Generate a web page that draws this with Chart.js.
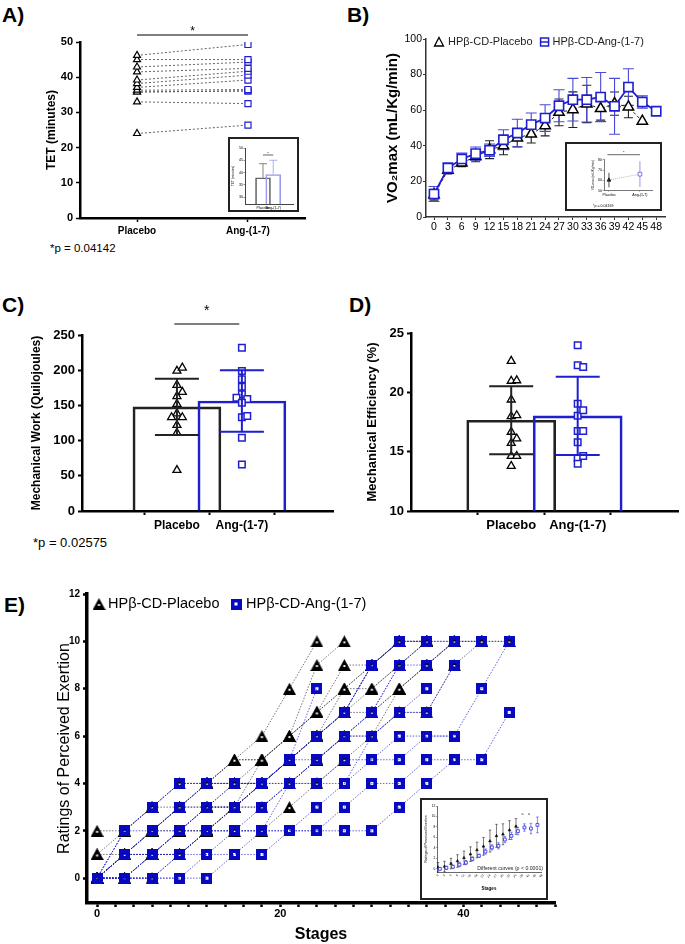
<!DOCTYPE html>
<html><head><meta charset="utf-8">
<script src="https://cdn.jsdelivr.net/npm/chart.js@4.4.0/dist/chart.umd.min.js"></script>
<style>
html,body{margin:0;padding:0;background:#fff;}
body{width:685px;height:944px;position:relative;overflow:hidden;font-family:"Liberation Sans",Arial,"DejaVu Sans",sans-serif;color:#000;}
canvas{position:absolute;}
.lbl{position:absolute;font-weight:bold;font-size:21px;line-height:1;}
.txt{position:absolute;font-size:11.5px;line-height:1;white-space:nowrap;}
.inset{position:absolute;border:2px solid #222;background:#fff;}
.inset canvas{left:0;top:0;}
</style></head><body>
<div class="lbl" style="left:2px;top:4px">A)</div>
<div class="lbl" style="left:347px;top:4px">B)</div>
<div class="lbl" style="left:2px;top:294px">C)</div>
<div class="lbl" style="left:349px;top:294px">D)</div>
<div class="lbl" style="left:4px;top:594px">E)</div>
<div class="txt" style="left:50px;top:243px">*p = 0.04142</div>
<div class="txt" style="left:33px;top:536px;font-size:13px">*p = 0.02575</div>

<canvas id="cA" width="340" height="250" style="left:0;top:0"></canvas>
<canvas id="cB" width="345" height="250" style="left:340px;top:0"></canvas>
<canvas id="cC" width="340" height="250" style="left:0;top:290px"></canvas>
<canvas id="cD" width="345" height="250" style="left:340px;top:290px"></canvas>
<canvas id="cE" width="685" height="364" style="left:0;top:580px"></canvas>
<div class="inset" style="left:228px;top:137px;width:67px;height:71px"><canvas id="iA" width="67" height="71"></canvas></div>
<div class="inset" style="left:565px;top:142px;width:93px;height:65px"><canvas id="iB" width="93" height="65"></canvas></div>
<div class="inset" style="left:420px;top:798px;width:124px;height:98px"><canvas id="iE" width="124" height="98"></canvas></div>

<script>
// ---------------- DATA ----------------
const groupCats = ['Placebo', 'Ang-(1-7)'];
const seriesNames = ['HPβ-CD-Placebo', 'HPβ-CD-Ang-(1-7)'];

// A) Total exercise time (minutes), paired per subject
const tetPlacebo = [46.2, 45, 42.9, 41.5, 39.2, 38.2, 37.1, 36.3, 35.8, 35.8, 33, 24];
const tetAng     = [49.3, 45, 44.3, 42.5, 41.7, 40.6, 39.2, 36.5, 36.1, 36.1, 32.5, 26.4];
const tetMean = [37.9, 39.2];
const tetSD   = [5.7, 5.8];
const tetTicks = [0, 10, 20, 30, 40, 50];
const tetInsetTicks = [30, 35, 40, 45, 50];

// B) VO2max per stage
const stagesB = [0, 3, 6, 9, 12, 15, 18, 21, 24, 27, 30, 33, 36, 39, 42, 45, 48];
const vo2Placebo   = [12.5, 26.2, 30.3, 34, 37.8, 40, 44.4, 46.6, 51.3, 58.8, 60.3, 63.5, 60.9, 63.7, 61.8, 53.8];
const vo2PlaceboSD = [3, 2, 2, 3, 5, 5, 5, 5, 5.7, 7.5, 10, 10.5, 6.5, 6.5, 6, 0];
const vo2Ang       = [12.9, 27.5, 32.6, 35.6, 37.5, 43.4, 47.2, 51.9, 55.6, 62.5, 65.9, 65.9, 67.4, 62.2, 73, 64.6, 59.4];
const vo2AngSD     = [4.2, 3, 3.3, 3.7, 3.5, 5.6, 7.7, 6.5, 7.5, 9, 12, 12.5, 13.8, 15.7, 10.3, 3.5, 0];
const vo2Ticks = [0, 20, 40, 60, 80, 100];
const vo2InsetMean = [60.3, 66];
const vo2InsetSD = [7, 12.5];
const vo2InsetTicks = [50, 60, 70, 80];

// C) Mechanical work (kJ)
const workPlacebo = [199, 203.5, 179, 169, 163, 152, 138.5, 133, 133, 122, 111, 58];
const workPlaceboSide = [0, 1, 0, 1, 0, 0, 0, -1, 1, 0, 0, 0];
const workAng = [232, 199, 187, 176.5, 166, 161, 159, 153.7, 133, 135, 104, 66];
const workAngSide = [0, 0, 0, 0, 0, -1, 1, 0, 0, 1, 0, 0];
const workMean = [148, 156.3];
const workSD = [40, 43.7];
const workTicks = [0, 50, 100, 150, 200, 250];

// D) Mechanical efficiency (%)
const effPlacebo = [22.64, 20.96, 21.0, 19.38, 17.98, 18.06, 16.66, 16.1, 15.73, 14.63, 14.63, 13.79];
const effPlaceboSide = [0, 0, 1, 0, 0, 1, 0, 1, 0, 0, 1, 0];
const effAng = [23.96, 22.28, 22.13, 19.04, 18.03, 18.48, 16.74, 16.74, 15.79, 14.47, 14.63, 13.99];
const effAngSide = [0, 0, 1, 0, 0, 1, 0, 1, 0, 0, 1, 0];
const effMean = [17.65, 18.02];
const effSD = [2.87, 3.3];
const effTicks = [10, 15, 20, 25];

// E) Ratings of perceived exertion per stage, per subject
const stagesE = [0, 3, 6, 9, 12, 15, 18, 21, 24, 27, 30, 33, 36, 39, 42, 45, 48];
const rpePlacebo = [
  [2, 2, 3, 4, 4, 5, 6, 8, 10],
  [1, 2, 3, 3, 4, 5, 5, 6, 9, 10],
  [0, 1, 2, 3, 3, 4, 5, 6, 7, 8, 9, 10],
  [0, 1, 1, 2, 3, 3, 5, 6, 7, 9, 9, 10, 10],
  [0, 0, 1, 1, 2, 2, 2, 3, 4, 5, 6, 8, 9, 10],
  [0, 1, 2, 3, 4, 4, 4, 5, 6, 8, 8, 9, 10],
  [0, 0, 1, 1, 2, 3, 3, 4, 5, 6, 7, 8, 9, 10, 10],
  [0, 1, 1, 2, 2, 3, 4, 4, 5, 6, 6, 7, 7, 9, 10, 10],
  [1, 1, 2, 2, 3, 3, 4, 5, 6, 7, 7, 8, 9, 10, 10, 10],
  [0, 0, 0, 1, 2, 3, 4, 5, 6, 7, 9, 10, 10],
  [0, 1, 2, 3, 4, 5, 5, 6, 7, 8, 9, 10],
  [0, 0, 1, 2, 2, 3, 4, 5, 6, 7, 8, 9, 10]
];
const rpeAng = [
  [0, 0, 0, 0, 0, 1, 1, 2, 2, 3, 4, 4, 5, 5, 5, 7],
  [0, 1, 1, 2, 2, 2, 2, 4, 4, 5, 5, 6, 6, 6, 8, 10],
  [0, 0, 0, 0, 1, 2, 3, 4, 5, 6, 7, 9, 10, 10, 10],
  [0, 1, 2, 2, 3, 3, 4, 5, 6, 7, 9, 10, 10],
  [0, 2, 3, 4, 4, 4, 4, 5, 8],
  [0, 0, 1, 1, 1, 1, 2, 2, 3, 4, 6, 7, 7, 9],
  [0, 1, 1, 1, 2, 3, 3, 4, 5, 6, 7, 9, 9, 10],
  [0, 0, 1, 2, 3, 4, 4, 5, 6, 7, 9, 10],
  [0, 2, 2, 3, 4, 4, 4, 5, 5, 6, 6, 7, 8],
  [0, 1, 2, 3, 3, 3, 4, 4, 4, 4, 5, 5, 6, 6],
  [0, 0, 0, 1, 2, 2, 2, 2, 2, 2, 2, 3, 4, 5],
  [0, 2, 3, 4, 4, 4, 4, 5, 6, 7, 9, 10, 10, 10]
];
const rpeXTicks = [0,2,4,6,8,10,12,14,16,18,20,22,24,26,28,30,32,34,36,38,40,42,44,46,48,50];
const rpeXLabels = [0, 20, 40];
const rpeYTicks = [0, 2, 4, 6, 8, 10, 12];
// E inset: mean ± SD per stage
const rpePlaceboMean = [0.3, 0.45, 1.0, 1.5, 2.1, 2.8, 3.6, 4.3, 5.3, 6.3, 6.6, 7.4, 8.1];
const rpePlaceboSD   = [0.9, 1.0, 1.0, 1.2, 1.3, 1.4, 1.5, 1.7, 2.1, 2.2, 2.0, 1.8, 1.5];
const rpeAngMean = [0, 0.2, 0.4, 0.8, 1.2, 1.9, 2.5, 3.3, 4.1, 4.4, 5.6, 6.3, 7.2, 7.9, 7.7, 8.4];
const rpeAngSD   = [0.2, 0.3, 0.3, 0.4, 0.4, 0.4, 0.3, 0.5, 0.5, 0.6, 0.6, 0.7, 0.7, 0.7, 1.0, 1.5];
const rpeInsetYTicks = [0, 2, 4, 6, 8, 10, 12];
const rpeLetterIdx = [13, 14];

// ---------------- SETUP ----------------
const FAM = '"Liberation Sans", Arial, "DejaVu Sans", sans-serif';
Chart.defaults.font.family = FAM;
Chart.defaults.color = '#000';
Chart.defaults.animation = false;
Chart.defaults.responsive = false;
Chart.defaults.devicePixelRatio = 1;
Chart.defaults.events = [];
Chart.defaults.plugins.legend.display = false;
Chart.defaults.plugins.tooltip.enabled = false;

const BLUE = '#1f1fd0';
const JIT = 0.083;

function axis(o) {
  return {
    type: 'linear', min: o.min, max: o.max,
    afterFit: o.fit,
    afterBuildTicks: s => { s.ticks = o.ticks.map(v => ({ value: v })); },
    ticks: { callback: o.cb || (v => v), font: o.font, color: '#000', padding: o.pad ?? 3,
             maxRotation: o.rot ?? 0, minRotation: o.rot ?? 0, autoSkip: false },
    grid: { display: true, drawOnChartArea: false, drawTicks: true, tickLength: o.tl ?? 4,
            tickWidth: o.tw ?? 1.5, tickColor: o.col || '#000' },
    border: { display: true, color: o.col || '#000', width: o.bw ?? 2 },
    title: o.title ? { display: true, text: o.title, font: o.tfont, color: '#000', padding: o.tpad }
                   : { display: false }
  };
}

function drawErr(chart, when) {
  const ctx = chart.ctx, ys = chart.scales.y;
  chart.data.datasets.forEach((ds, i) => {
    if (!ds.err || (ds.errWhen || 'after') !== when) return;
    const meta = chart.getDatasetMeta(i);
    meta.data.forEach((el, j) => {
      const e = ds.err[j]; if (!e) return;
      const v = ds.data[j].y;
      const x = el.x;
      const yt = ys.getPixelForValue(v + e);
      const yb = ds.errUp ? ys.getPixelForValue(v) : ys.getPixelForValue(v - e);
      ctx.save();
      ctx.strokeStyle = Array.isArray(ds.errColor) ? ds.errColor[j] : ds.errColor;
      ctx.lineWidth = ds.errWidth;
      ctx.beginPath();
      ctx.moveTo(x, yt); ctx.lineTo(x, yb);
      ctx.moveTo(x - ds.capW / 2, yt); ctx.lineTo(x + ds.capW / 2, yt);
      if (!ds.errUp) { ctx.moveTo(x - ds.capW / 2, yb); ctx.lineTo(x + ds.capW / 2, yb); }
      ctx.stroke();
      ctx.restore();
    });
  });
}
const errPlugin = {
  id: 'errbars',
  beforeDatasetsDraw(c) { drawErr(c, 'before'); },
  afterDatasetsDraw(c) { drawErr(c, 'after'); }
};

function sigBar(c, a, b, y, fs, gap, lw) {
  const ctx = c.ctx, xs = c.scales.x;
  const x0 = xs.getPixelForValue(a), x1 = xs.getPixelForValue(b);
  ctx.save();
  ctx.strokeStyle = '#000'; ctx.lineWidth = lw || 1.2;
  ctx.beginPath(); ctx.moveTo(x0, y); ctx.lineTo(x1, y); ctx.stroke();
  ctx.fillStyle = '#000'; ctx.font = fs + 'px ' + FAM;
  ctx.textAlign = 'center'; ctx.textBaseline = 'alphabetic';
  ctx.fillText('*', (x0 + x1) / 2, y - gap);
  ctx.restore();
}

// marker images for panel E
function triImg(w, h) {
  const c = document.createElement('canvas'); c.width = w; c.height = h;
  const g = c.getContext('2d');
  g.fillStyle = '#000'; g.beginPath(); g.moveTo(w / 2, 0); g.lineTo(w, h); g.lineTo(0, h); g.closePath(); g.fill();
  g.fillStyle = '#fff'; g.fillRect(w / 2 - 1, Math.round(h * 0.6) - 1, 2, 2);
  return c;
}
function sqImg(s, hole) {
  const c = document.createElement('canvas'); c.width = s; c.height = s;
  const g = c.getContext('2d');
  g.fillStyle = '#0808c0'; g.fillRect(0, 0, s, s);
  g.clearRect((s - hole) / 2, (s - hole) / 2, hole, hole);
  return c;
}
const triE = triImg(13, 12);
const sqE = sqImg(11, 3);

// ---------------- A ----------------
new Chart(document.getElementById('cA'), {
  type: 'scatter',
  data: { datasets: tetPlacebo.map((p, i) => ({
    data: [{ x: 0, y: p }, { x: 1, y: tetAng[i] }],
    showLine: true, borderColor: '#555', borderWidth: 0.9, borderDash: [2, 2],
    pointStyle: ['triangle', 'rect'], pointRadius: [4, 4.3],
    pointBorderColor: ['#000', BLUE], pointBackgroundColor: '#fff', pointBorderWidth: 1.2
  })) },
  options: {
    layout: { padding: { top: 42, right: 35, left: 0, bottom: 0 } },
    scales: {
      x: axis({ min: -0.514, max: 1.514, ticks: [0, 1], cb: v => groupCats[v],
                font: { size: 10, weight: 'bold' }, fit: s => { s.height = 32; }, bw: 2.5 }),
      y: axis({ min: 0, max: 50, ticks: tetTicks, font: { size: 11, weight: 'bold' },
                fit: s => { s.width = 80; }, bw: 2.5, title: 'TET (minutes)',
                tfont: { size: 12, weight: 'bold' }, tpad: { top: 44.8, bottom: 0 } })
    }
  },
  plugins: [{ id: 'sigA', afterDraw(c) { sigBar(c, 0, 1, c.scales.y.getPixelForValue(50) - 7, 12, 0, 1.2); } }]
});

// A inset
new Chart(document.getElementById('iA'), {
  type: 'bar',
  data: { datasets: [{
    data: [{ x: 0, y: tetMean[0] }, { x: 1, y: tetMean[1] }],
    backgroundColor: 'rgba(255,255,255,0)', borderColor: ['#666', '#9a9aee'], borderWidth: 1,
    barThickness: 15, borderSkipped: 'bottom',
    err: tetSD, errUp: true, errColor: ['#666', '#9a9aee'], errWidth: 0.8, capW: 8
  }] },
  options: {
    layout: { padding: { top: 9, right: 4, left: 0, bottom: 0 } },
    scales: {
      x: axis({ min: -0.585, max: 1.756, ticks: [0, 1], cb: v => groupCats[v], font: { size: 3.6 },
                fit: s => { s.height = 6; }, tl: 1, pad: 0.5, bw: 1, tw: 0.6, col: '#444' }),
      y: axis({ min: 27.2, max: 50, ticks: tetInsetTicks, font: { size: 3.6 }, fit: s => { s.width = 15; },
                tl: 1.5, pad: 0.5, bw: 1, tw: 0.6, col: '#444', title: 'TET (minutes)',
                tfont: { size: 3.2 }, tpad: { top: 1.5, bottom: 0 } })
    }
  },
  plugins: [errPlugin, { id: 'sigAi', afterDraw(c) { sigBar(c, 0, 1, c.scales.y.getPixelForValue(50) + 7, 4, 0.5, 0.6); } }]
});

// ---------------- B ----------------
new Chart(document.getElementById('cB'), {
  type: 'scatter',
  data: { datasets: [
    { data: vo2Placebo.map((v, i) => ({ x: stagesB[i], y: v })), err: vo2PlaceboSD, errColor: '#222',
      errWidth: 1.1, capW: 9, errWhen: 'before',
      showLine: true, borderColor: '#222', borderWidth: 1, borderDash: [3, 2],
      pointStyle: 'triangle', pointRadius: 6, pointBorderColor: '#000', pointBackgroundColor: '#fff',
      pointBorderWidth: 1.5, order: 1 },
    { data: vo2Ang.map((v, i) => ({ x: stagesB[i], y: v })), err: vo2AngSD, errColor: '#4a4ad8',
      errWidth: 1.1, capW: 11, errWhen: 'before',
      showLine: true, borderColor: BLUE, borderWidth: 1.8,
      pointStyle: 'rect', pointRadius: 6.5, pointBorderColor: BLUE, pointBackgroundColor: '#fff',
      pointBorderWidth: 1.6, order: 0 }
  ] },
  options: {
    layout: { padding: { top: 39, right: 20, left: 0, bottom: 0 } },
    scales: {
      x: axis({ min: -1.73, max: 49.9, ticks: stagesB, font: { size: 10.5 }, fit: s => { s.height = 33; },
                tl: 3, pad: 1, bw: 1.5, tw: 1, col: '#333' }),
      y: axis({ min: 0, max: 100, ticks: vo2Ticks, font: { size: 10.5 }, fit: s => { s.width = 86; },
                tl: 3, pad: 1, bw: 1.5, tw: 1, col: '#333', title: 'VO₂max (mL/Kg/min)',
                tfont: { size: 15, weight: 'bold' }, tpad: { top: 44, bottom: 0 } })
    }
  },
  plugins: [errPlugin, { id: 'legB', afterDraw(c) {
    const ctx = c.ctx, L = c.chartArea.left, y = c.chartArea.top + 3;
    ctx.save();
    ctx.font = '11px ' + FAM; ctx.textBaseline = 'middle'; ctx.fillStyle = '#222';
    // first item: open triangle + text
    ctx.strokeStyle = '#000'; ctx.lineWidth = 1.3;
    ctx.beginPath(); ctx.moveTo(L + 13, y - 4.5); ctx.lineTo(L + 17.5, y + 4); ctx.lineTo(L + 8.5, y + 4); ctx.closePath(); ctx.stroke();
    const t1 = L + 22;
    ctx.fillText(seriesNames[0], t1, y);
    // second item: open square + text, placed after the first label
    const sx = t1 + ctx.measureText(seriesNames[0]).width + 8;
    ctx.strokeStyle = BLUE; ctx.lineWidth = 1.5;
    ctx.strokeRect(sx, y - 4, 8, 8);
    ctx.beginPath(); ctx.moveTo(sx, y); ctx.lineTo(sx + 8, y); ctx.stroke();
    ctx.fillText(seriesNames[1], sx + 12, y);
    ctx.restore();
  } }]
});

// B inset
new Chart(document.getElementById('iB'), {
  type: 'scatter',
  data: { datasets: [{
    data: [{ x: 0, y: vo2InsetMean[0] }, { x: 1, y: vo2InsetMean[1] }],
    err: vo2InsetSD, errColor: ['#222', '#7a7ae8'], errWidth: 0.8, capW: 0, errWhen: 'before',
    showLine: true, borderColor: '#888', borderWidth: 0.6, borderDash: [1, 1],
    pointStyle: ['triangle', 'rect'], pointRadius: [2.2, 2.6],
    pointBorderColor: ['#000', '#4a4ad8'], pointBackgroundColor: ['#333', '#fff'], pointBorderWidth: 0.7
  }] },
  options: {
    layout: { padding: { top: 15.7, right: 8, left: 0, bottom: 0 } },
    scales: {
      x: axis({ min: -0.16, max: 1.39, ticks: [0, 1], cb: v => groupCats[v], font: { size: 3.6 },
                fit: s => { s.height = 18.3; }, tl: 1, pad: 1, bw: 0.8, tw: 0.5, col: '#555' }),
      y: axis({ min: 50, max: 80, ticks: vo2InsetTicks, font: { size: 3.6 }, fit: s => { s.width = 37; },
                tl: 1.5, pad: 0.5, bw: 0.8, tw: 0.5, col: '#555', title: 'VO₂max (mL/Kg/min)',
                tfont: { size: 3.2 }, tpad: { top: 24, bottom: 0 } })
    }
  },
  plugins: [errPlugin, { id: 'sigBi', afterDraw(c) {
    sigBar(c, -0.05, 1, c.scales.y.getPixelForValue(80) - 5, 4, 0.5, 0.6);
    const ctx = c.ctx; ctx.save(); ctx.fillStyle = '#000'; ctx.font = '3.6px ' + FAM;
    ctx.textBaseline = 'middle'; ctx.fillText('*p = 0.04169', 26, 62); ctx.restore();
  } }]
});

// ---------------- C ----------------
function barDots(canvasId, mean, sd, plac, placSide, ang, angSide, yTicks, yMin, yMax, o) {
  return new Chart(document.getElementById(canvasId), {
    type: 'bar',
    data: { datasets: [
      { type: 'bar', data: [{ x: 0, y: mean[0] }, { x: 1, y: mean[1] }],
        backgroundColor: 'rgba(255,255,255,0)', borderColor: ['#222', BLUE], borderWidth: 2,
        barThickness: o.barW, borderSkipped: 'bottom',
        err: sd, errColor: ['#222', BLUE], errWidth: 2, capW: 44, order: 2 },
      { type: 'line', data: plac.map((v, i) => ({ x: placSide[i] * JIT, y: v })), showLine: false,
        pointStyle: 'triangle', pointRadius: 4.6, pointBorderColor: '#000', pointBackgroundColor: '#fff',
        pointBorderWidth: 1.3, order: 1 },
      { type: 'line', data: ang.map((v, i) => ({ x: 1 + angSide[i] * JIT, y: v })), showLine: false,
        pointStyle: 'rect', pointRadius: 4.6, pointBorderColor: BLUE, pointBackgroundColor: '#fff',
        pointBorderWidth: 1.5, order: 0 }
    ] },
    options: {
      layout: { padding: { top: o.top, right: o.right, left: 0, bottom: 0 } },
      scales: {
        x: axis({ min: o.xmin, max: o.xmax, ticks: [0, 1], cb: v => groupCats[v],
                  font: { size: o.xfs, weight: 'bold' }, fit: s => { s.height = 29; }, bw: 2.5, tw: 2 }),
        y: axis({ min: yMin, max: yMax, ticks: yTicks, font: { size: 13, weight: 'bold' },
                  fit: s => { s.width = o.yw; }, bw: 2.5, tw: 2, title: o.title,
                  tfont: { size: o.tfs, weight: 'bold' }, tpad: { top: o.tpad, bottom: 0 } })
      }
    },
    plugins: [errPlugin].concat(o.extra || [])
  });
}
barDots('cC', workMean, workSD, workPlacebo, workPlaceboSide, workAng, workAngSide, workTicks, 0, 250,
  { barW: 88, top: 45, right: 2, xmin: -0.492, xmax: 1.447, xfs: 12, yw: 82, title: 'Mechanical Work (Quilojoules)',
    tfs: 12, tpad: 29.8,
    extra: [{ id: 'sigC', afterDraw(c) { sigBar(c, -0.04, 0.96, c.scales.y.getPixelForValue(250) - 11, 14, 9, 1.2); } }] });

// ---------------- D ----------------
barDots('cD', effMean, effSD, effPlacebo, effPlaceboSide, effAng, effAngSide, effTicks, 10, 25,
  { barW: 89, top: 43, right: 0, xmin: -0.5, xmax: 1.515, xfs: 13, yw: 71, title: 'Mechanical Efficiency (%)',
    tfs: 13, tpad: 24.2 });

// ---------------- E ----------------
const eSets = [];
rpeAng.forEach(arr => eSets.push({
  data: arr.map((v, i) => ({ x: stagesE[i], y: v })), showLine: true,
  borderColor: 'rgba(25,25,215,0.85)', borderWidth: 0.8, borderDash: [1.5, 1.5],
  pointStyle: sqE, pointRadius: 5, order: 0
}));
rpePlacebo.forEach(arr => eSets.push({
  data: arr.map((v, i) => ({ x: stagesE[i], y: v })), showLine: true,
  borderColor: 'rgba(40,40,40,0.8)', borderWidth: 0.8, borderDash: [1.5, 1.5],
  pointStyle: triE, pointRadius: 5, order: 1
}));
new Chart(document.getElementById('cE'), {
  type: 'scatter',
  data: { datasets: eSets },
  options: {
    layout: { padding: { top: 14, right: 130, left: 0, bottom: 0 } },
    scales: {
      x: axis({ min: -1.1, max: 50, ticks: rpeXTicks, cb: v => rpeXLabels.includes(v) ? v : '',
                font: { size: 11, weight: 'bold' }, fit: s => { s.height = 41; }, tl: 4, pad: 0, bw: 3.5, tw: 2.5,
                title: 'Stages', tfont: { size: 16, weight: 'bold' }, tpad: { top: 0, bottom: 0 } }),
      y: axis({ min: -1.05, max: 12, ticks: rpeYTicks, font: { size: 10, weight: 'bold' },
                fit: s => { s.width = 87; }, tl: 4, pad: 3, bw: 3.5, tw: 2.5,
                title: 'Ratings of Perceived Exertion', tfont: { size: 16 }, tpad: { top: 55.4, bottom: 0 } })
    }
  },
  plugins: [{ id: 'legE', afterDraw(c) {
    const ctx = c.ctx, y = c.chartArea.top + 10;
    ctx.save();
    ctx.drawImage(triE, 99 - triE.width / 2, y - triE.height / 2);
    ctx.drawImage(sqE, 236 - sqE.width / 2, y - sqE.height / 2);
    ctx.fillStyle = '#000'; ctx.font = '14.5px ' + FAM; ctx.textBaseline = 'middle';
    ctx.fillText(seriesNames[0], 108, y);
    ctx.fillText(seriesNames[1], 246, y);
    ctx.restore();
  } }]
});

// E inset
new Chart(document.getElementById('iE'), {
  type: 'scatter',
  data: { datasets: [
    { data: rpePlaceboMean.map((v, i) => ({ x: i, y: v })), err: rpePlaceboSD, errColor: '#222',
      errWidth: 0.6, capW: 2.5, errWhen: 'before', pointStyle: 'triangle', pointRadius: 1.6,
      pointBorderColor: '#000', pointBackgroundColor: '#111', pointBorderWidth: 0.5, order: 1 },
    { data: rpeAngMean.map((v, i) => ({ x: i + 0.3, y: v })), err: rpeAngSD, errColor: '#3a3ae0',
      errWidth: 0.6, capW: 2.5, errWhen: 'before', pointStyle: 'rect', pointRadius: 2,
      pointBorderColor: '#2a2ae0', pointBackgroundColor: '#fff', pointBorderWidth: 0.8, order: 0 }
  ] },
  options: {
    layout: { padding: { top: 6, right: 5, left: 0, bottom: 0 } },
    scales: {
      x: axis({ min: -0.15, max: 15.85, ticks: stagesE.map((s, i) => i), cb: v => String(stagesE[v]),
                font: { size: 3 }, rot: 45, fit: s => { s.height = 26; }, tl: 1, pad: 0.5, bw: 0.8, tw: 0.5, col: '#444',
                title: 'Stages', tfont: { size: 4.5, weight: 'bold' }, tpad: { top: 0, bottom: 6.3 } }),
      y: axis({ min: -0.6, max: 12, ticks: rpeInsetYTicks, font: { size: 3.2 }, fit: s => { s.width = 15; },
                tl: 1.2, pad: 0.5, bw: 0.8, tw: 0.5, col: '#444', title: 'Ratings of Perceived Exertion',
                tfont: { size: 3.6 }, tpad: { top: 2, bottom: 0 } })
    }
  },
  plugins: [errPlugin, { id: 'txtE', afterDraw(c) {
    const ctx = c.ctx, a = c.chartArea;
    ctx.save(); ctx.fillStyle = '#222'; ctx.font = '5.2px ' + FAM;
    ctx.textAlign = 'right'; ctx.textBaseline = 'bottom';
    ctx.fillText('Different curves (p < 0.0001)', a.right + 2, a.bottom - 1);
    ctx.textAlign = 'center'; ctx.font = '3.6px ' + FAM;
    rpeLetterIdx.forEach(i => ctx.fillText('a', c.scales.x.getPixelForValue(i), c.scales.y.getPixelForValue(10.2)));
    ctx.restore();
  } }]
});
</script>
</body></html>
